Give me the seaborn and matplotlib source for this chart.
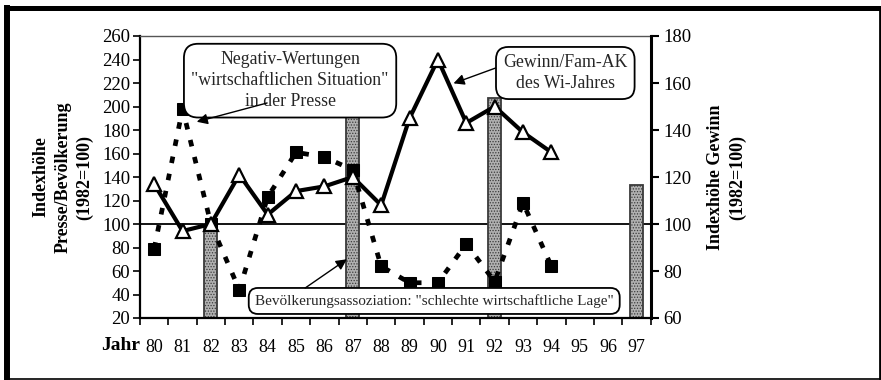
import numpy as np
import pandas as pd
import matplotlib
matplotlib.use("Agg")
import matplotlib.pyplot as plt
from matplotlib.lines import Line2D
from matplotlib.ticker import FixedLocator
import seaborn as sns

# ---- data -------------------------------------------------------------
years_all = list(range(80, 98))                      # x categories 80..97
year_labels = [str(y) for y in years_all]

# Negativ-Wertungen in der Presse (left axis, 1982=100)
presse_years = list(range(80, 95))
presse_values = [79, 198, 100, 44, 123, 161, 157, 146, 64, 50, 50, 83, 51, 118, 64]

# Gewinn/Fam-AK des Wi-Jahres (right axis, 1982=100)
gewinn_years = list(range(80, 95))
gewinn_values = [117, 97, 100, 121, 104, 114, 116, 120, 108, 145, 170, 143, 150, 139, 130.5]

# Bevölkerungsassoziation "schlechte wirtschaftliche Lage" (left axis)
bev_years = [82, 87, 92, 97]
bev_values = [100, 200, 207, 133]

left_ticks = list(range(20, 261, 20))
right_ticks = list(range(60, 181, 20))

# ---- style ------------------------------------------------------------
sns.set_theme(style="white")
plt.rcParams["font.family"] = ["Liberation Serif", "DejaVu Serif"]
plt.rcParams["hatch.linewidth"] = 0.6

fig = plt.figure(figsize=(8.81, 3.80), dpi=100)
fig.patch.set_facecolor("white")
W, H = 881, 380
ax = fig.add_axes([140 / W, 1 - 318 / H, (650.7 - 140) / W, (318 - 36) / H])
ax.set_facecolor("white")

# bars
df_bev = pd.DataFrame({"Jahr": bev_years, "Wert": bev_values})
sns.barplot(data=df_bev, x="Jahr", y="Wert", native_scale=True, width=0.46 / 5,
            color="#b0b0b0", edgecolor="#3a3a3a", linewidth=1.3, hatch="......",
            saturation=1, ax=ax, zorder=2)

# reference line at 100
ax.axhline(100, color="black", lw=1.3, zorder=1.5)

# press series: squares with dashed line
df_presse = pd.DataFrame({"Jahr": presse_years, "Wert": presse_values})
sns.lineplot(data=df_presse, x="Jahr", y="Wert", ax=ax, color="black",
             lw=3.4, linestyle=(0, (1.4, 2.3)), marker="s", markersize=8.5,
             markeredgecolor="black", markerfacecolor="black", zorder=3)

ax.set_xlim(79.5, 97.5)
ax.set_ylim(20, 260)
ax.set_yticks(left_ticks)
ax.set_xticks(years_all)
ax.set_xticklabels(year_labels)
ax.xaxis.set_minor_locator(FixedLocator(np.arange(79.5, 97.6, 1.0)))
ax.tick_params(axis="x", which="major", length=0, pad=15, labelsize=13,
               colors="black")
ax.tick_params(axis="x", which="minor", length=5, width=1.2, direction="out",
               bottom=True, color="black")
ax.tick_params(axis="y", length=5, width=1.2, direction="out", left=True,
               pad=2, labelsize=13.5, colors="black")
ax.set_xlabel("")
ax.set_ylabel("Indexhöhe\nPresse/Bevölkerung\n(1982=100)", fontsize=13,
              fontweight="bold", linespacing=1.35, color="black")
ax.yaxis.label.set_verticalalignment("center")
ax.yaxis.set_label_coords(-0.151, 0.5)

for side in ["left", "bottom"]:
    ax.spines[side].set_color("black")
    ax.spines[side].set_linewidth(1.6)
ax.spines["top"].set_color("#555555")
ax.spines["top"].set_linewidth(1.0)
ax.spines["right"].set_visible(False)

# profit series on the right axis
ax2 = ax.twinx()
df_gewinn = pd.DataFrame({"Jahr": gewinn_years, "Wert": gewinn_values})
sns.lineplot(data=df_gewinn, x="Jahr", y="Wert", ax=ax2, color="black",
             lw=3.0, marker="^", markersize=9.5, markerfacecolor="white",
             markeredgecolor="black", markeredgewidth=1.6, zorder=3)
ax2.set_ylim(60, 180)
ax2.set_yticks(right_ticks)
ax2.tick_params(axis="y", length=6, width=1.5, direction="out", right=True,
                pad=3, labelsize=13.5, colors="black")
ax2.set_xlabel("")
ax2.set_ylabel("Indexhöhe Gewinn\n(1982=100)", fontsize=13, fontweight="bold",
               linespacing=1.35, color="black")
ax2.yaxis.label.set_verticalalignment("center")
ax2.yaxis.set_label_coords(1.148, 0.5)
for side in ["left", "top", "bottom"]:
    ax2.spines[side].set_visible(False)
ax2.spines["right"].set_color("black")
ax2.spines["right"].set_linewidth(2.2)

# ---- callouts (positions in left-axis units) ---------------------------
arrow = dict(arrowstyle="-|>", color="black", lw=1.0, mutation_scale=16,
             shrinkA=0, shrinkB=0)
tr = ax.transData

ax2.text(84.79, 222, "Negativ-Wertungen\n\"wirtschaftlichen Situation\"\nin der Presse",
         transform=tr, ha="center", va="center", fontsize=12.8, linespacing=1.3,
         bbox=dict(boxstyle="round,pad=0.42,rounding_size=0.8", fc="white",
                   ec="black", lw=1.3), zorder=10)
ax2.annotate("", xy=(81.5, 187), xycoords=tr, xytext=(83.98, 203),
             textcoords=tr, arrowprops=arrow, zorder=11)

ax2.text(94.49, 228.5, "Gewinn/Fam-AK\ndes Wi-Jahres", transform=tr,
         ha="center", va="center", fontsize=12.8, linespacing=1.3,
         bbox=dict(boxstyle="round,pad=0.4,rounding_size=0.7", fc="white",
                   ec="black", lw=1.3), zorder=10)
ax2.annotate("", xy=(90.55, 219.7), xycoords=tr, xytext=(92.13, 233.6),
             textcoords=tr, arrowprops=arrow, zorder=9)

ax2.text(89.87, 34.5, "Bevölkerungsassoziation: \"schlechte wirtschaftliche Lage\"",
         transform=tr, ha="center", va="center", fontsize=11,
         bbox=dict(boxstyle="round,pad=0.4,rounding_size=0.6", fc="white",
                   ec="black", lw=1.3), zorder=10)
ax2.annotate("", xy=(86.79, 70), xycoords=tr, xytext=(85.32, 45.5),
             textcoords=tr, arrowprops=arrow, zorder=11)

# x axis caption
fig.text(140 / W, 1 - 346 / H, "Jahr", ha="right", va="center",
         fontsize=14, fontweight="bold", color="black")

# outer frame
def frame_line(x0, y0, x1, y1, lw):
    fig.add_artist(Line2D([x0 / W, x1 / W], [1 - y0 / H, 1 - y1 / H],
                          color="black", lw=lw, solid_capstyle="projecting"))

frame_line(7, 7.5, 879.5, 7.5, 3.6)
frame_line(7, 7.5, 7, 378, 4.3)
frame_line(879.5, 7.5, 879.5, 378, 2.0)
frame_line(7, 378.5, 879.5, 378.5, 1.2)

fig.savefig("out.png", dpi=100, facecolor="white")
